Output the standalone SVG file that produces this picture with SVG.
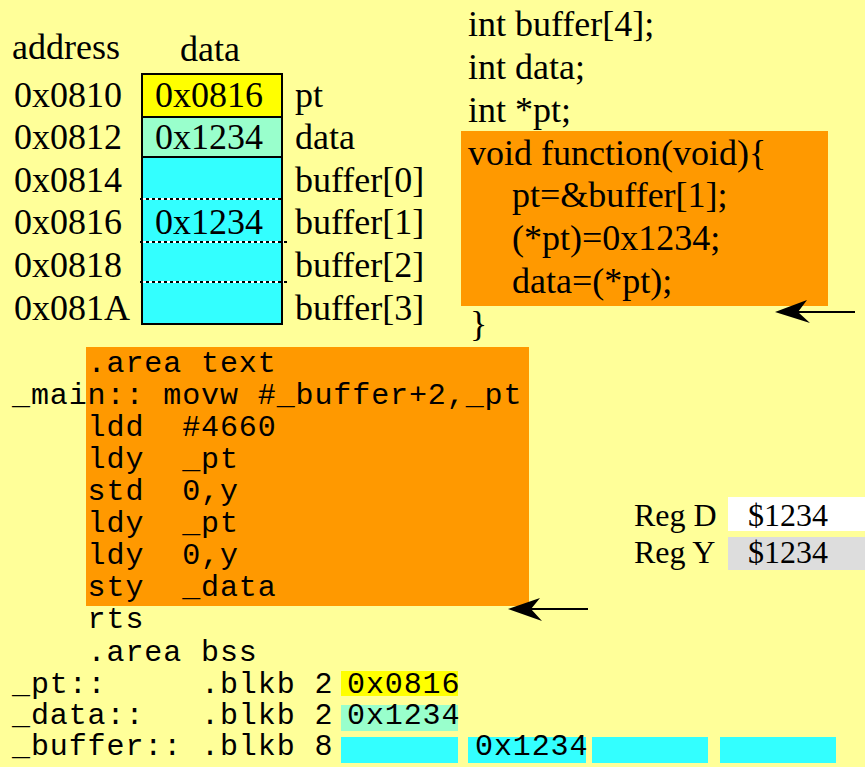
<svg xmlns="http://www.w3.org/2000/svg" width="865" height="767" viewBox="0 0 865 767">
<defs>
<style>
.serif{font-family:"Liberation Serif","Times New Roman",serif;font-size:36px;fill:#000}
.reg{font-family:"Liberation Serif","Times New Roman",serif;font-size:32px;fill:#000}
.mono{font-family:"Liberation Mono","Courier New",monospace;font-size:30px;letter-spacing:0.9px;fill:#000;white-space:pre}
.dash{stroke:#fff;stroke-width:2}
.dash2{stroke:#000;stroke-width:2;stroke-dasharray:3 3}
.arrow{stroke:#000;stroke-width:2;fill:none}
.head{fill:#000}
</style>
</defs>
<rect x="0" y="0" width="865" height="767" fill="#FFFF99"/>

<g id="memory-table">
<text class="serif" x="12" y="59">address</text>
<text class="serif" x="180" y="61">data</text>
<rect x="142" y="74" width="140" height="43" fill="#FFFF00"/>
<rect x="142" y="117" width="140" height="40" fill="#99FFCC"/>
<rect x="142" y="157" width="140" height="166" fill="#33FFFF"/>
<line x1="142" y1="117" x2="282" y2="117" stroke="#000" stroke-width="2"/>
<line x1="142" y1="157" x2="282" y2="157" stroke="#000" stroke-width="2"/>
<line class="dash" x1="140" y1="199" x2="283" y2="199"/>
<line class="dash2" x1="140" y1="199" x2="283" y2="199"/>
<line class="dash" x1="140" y1="242" x2="287" y2="242"/>
<line class="dash2" x1="140" y1="242" x2="287" y2="242"/>
<line class="dash" x1="140" y1="282" x2="287" y2="282"/>
<line class="dash2" x1="140" y1="282" x2="287" y2="282"/>
<rect x="142" y="74" width="140" height="250" fill="none" stroke="#000" stroke-width="2"/>
<text class="serif" x="14" y="107">0x0810</text>
<text class="serif" x="14" y="149">0x0812</text>
<text class="serif" x="14" y="192">0x0814</text>
<text class="serif" x="14" y="234">0x0816</text>
<text class="serif" x="14" y="277">0x0818</text>
<text class="serif" x="14" y="320">0x081A</text>
<text class="serif" x="155" y="107">0x0816</text>
<text class="serif" x="155" y="149">0x1234</text>
<text class="serif" x="155" y="234">0x1234</text>
<text class="serif" x="295" y="107">pt</text>
<text class="serif" x="295" y="149">data</text>
<text class="serif" x="295" y="192">buffer[0]</text>
<text class="serif" x="295" y="234">buffer[1]</text>
<text class="serif" x="295" y="277">buffer[2]</text>
<text class="serif" x="295" y="320">buffer[3]</text>
</g>

<g id="c-code">
<rect x="461" y="131" width="367" height="175" fill="#FF9900"/>
<text class="serif" x="468" y="36">int buffer[4];</text>
<text class="serif" x="468" y="79">int data;</text>
<text class="serif" x="468" y="122">int *pt;</text>
<text class="serif" x="468" y="165">void function(void){</text>
<text class="serif" x="512" y="207">pt=&amp;buffer[1];</text>
<text class="serif" x="512" y="250">(*pt)=0x1234;</text>
<text class="serif" x="512" y="293">data=(*pt);</text>
<text class="serif" x="470" y="336">}</text>
</g>

<g id="asm-code">
<rect x="86" y="347" width="443" height="259" fill="#FF9900"/>
<text class="mono" x="12" y="372">    .area text</text>
<text class="mono" x="12" y="404">_main:: movw #_buffer+2,_pt</text>
<text class="mono" x="12" y="436">    ldd  #4660</text>
<text class="mono" x="12" y="468">    ldy  _pt</text>
<text class="mono" x="12" y="500">    std  0,y</text>
<text class="mono" x="12" y="532">    ldy  _pt</text>
<text class="mono" x="12" y="564">    ldy  0,y</text>
<text class="mono" x="12" y="596">    sty  _data</text>
<text class="mono" x="12" y="628">    rts</text>
</g>

<g id="bss">
<rect x="341" y="671" width="117" height="25" fill="#FFFF00"/>
<rect x="341" y="705" width="117" height="26" fill="#99FFCC"/>
<rect x="341" y="737" width="117" height="26" fill="#33FFFF"/>
<rect x="468" y="737" width="118" height="26" fill="#33FFFF"/>
<rect x="592" y="737" width="116" height="26" fill="#33FFFF"/>
<rect x="720" y="737" width="116" height="26" fill="#33FFFF"/>
<text class="mono" x="12" y="661">    .area bss</text>
<text class="mono" x="12" y="693">_pt::     .blkb 2</text>
<text class="mono" x="12" y="724">_data::   .blkb 2</text>
<text class="mono" x="12" y="755">_buffer:: .blkb 8</text>
<text class="mono" x="347" y="693">0x0816</text>
<text class="mono" x="347" y="724">0x1234</text>
<text class="mono" x="475" y="755">0x1234</text>
</g>

<g id="registers">
<rect x="728" y="497" width="137" height="34" fill="#FFFFFF"/>
<rect x="728" y="537" width="137" height="33" fill="#DDDDDD"/>
<text class="reg" x="634" y="526">Reg D</text>
<text class="reg" x="634" y="563">Reg Y</text>
<text class="reg" x="748" y="526">$1234</text>
<text class="reg" x="748" y="563">$1234</text>
</g>

<g id="connectors">
<line class="arrow" x1="798" y1="312" x2="855" y2="312"/>
<polygon class="head" points="775,312 807,300 798,312 810,323"/>
<line class="arrow" x1="530" y1="609" x2="588" y2="609"/>
<polygon class="head" points="508,609 540,598 531,609 542,621"/>
</g>
</svg>
